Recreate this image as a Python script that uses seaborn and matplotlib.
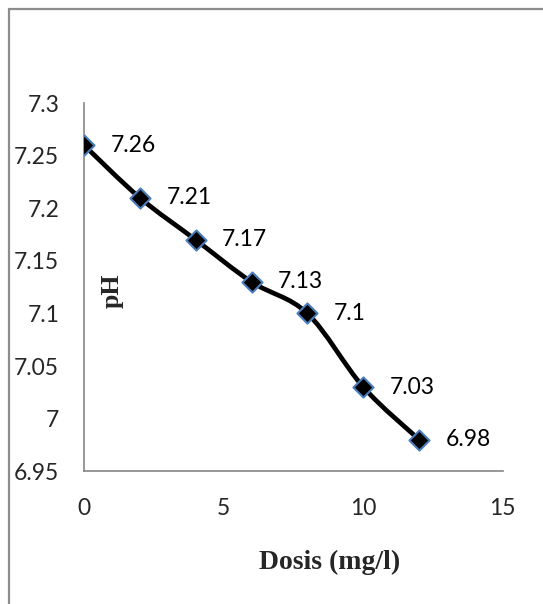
import matplotlib
matplotlib.use("Agg")
import matplotlib.pyplot as plt
import seaborn as sns
import pandas as pd
from matplotlib.path import Path
from matplotlib.patches import PathPatch
from matplotlib.lines import Line2D

# data
dosis = [0, 2, 4, 6, 8, 10, 12]
ph = [7.26, 7.21, 7.17, 7.13, 7.10, 7.03, 6.98]
labels = ["7.26", "7.21", "7.17", "7.13", "7.1", "7.03", "6.98"]
x_ticks = [0, 5, 10, 15]
y_ticks = [6.95, 7.0, 7.05, 7.1, 7.15, 7.2, 7.25, 7.3]
y_tick_labels = ["6.95", "7", "7.05", "7.1", "7.15", "7.2", "7.25", "7.3"]

df = pd.DataFrame({"dosis": dosis, "ph": ph})

sns.set_theme(style="white")
plt.rcParams["font.family"] = ["Lato", "DejaVu Sans"]

fig = plt.figure(figsize=(5.43, 6.04), dpi=100)
ax = fig.add_axes([0.155, 0.220, 0.771, 0.609])


def smooth_path(xs, ys):
    # Catmull-Rom style smoothing, drawn as cubic bezier segments
    pts = list(zip(xs, ys))
    verts = [pts[0]]
    codes = [Path.MOVETO]
    n = len(pts)
    for i in range(n - 1):
        p0 = pts[i - 1] if i > 0 else pts[i]
        p1 = pts[i]
        p2 = pts[i + 1]
        p3 = pts[i + 2] if i + 2 < n else pts[i + 1]
        c1 = (p1[0] + (p2[0] - p0[0]) / 6, p1[1] + (p2[1] - p0[1]) / 6)
        c2 = (p2[0] - (p3[0] - p1[0]) / 6, p2[1] - (p3[1] - p1[1]) / 6)
        verts += [c1, c2, p2]
        codes += [Path.CURVE4] * 3
    return Path(verts, codes)


ax.add_patch(PathPatch(smooth_path(df["dosis"], df["ph"]), facecolor="none",
                       edgecolor="black", lw=3.4, capstyle="round", zorder=2))
sns.scatterplot(data=df, x="dosis", y="ph", marker="D", s=105, color="black",
                edgecolor="#4a7ebb", linewidth=1.5, ax=ax, zorder=3)

for xv, yv, lab in zip(dosis, ph, labels):
    ax.annotate(lab, (xv, yv), xytext=(19, 0), textcoords="offset points",
                ha="left", va="center", fontsize=16.5, color="black")

ax.set_xlim(0, 15)
ax.set_ylim(6.95, 7.3)
ax.set_xticks(x_ticks)
ax.set_xticklabels([str(t) for t in x_ticks])
ax.set_yticks(y_ticks)
ax.set_yticklabels(y_tick_labels)
ax.tick_params(axis="x", length=0, pad=19, labelsize=16.5)
ax.tick_params(axis="y", length=0, pad=18, labelsize=16.5)
ax.set_xlabel("")
ax.set_ylabel("")

for side in ["top", "right"]:
    ax.spines[side].set_visible(False)
for side in ["left", "bottom"]:
    ax.spines[side].set_color("#868686")
    ax.spines[side].set_linewidth(1.2)

ax.text(0.067, 0.49, "pH", transform=ax.transAxes, rotation=90,
        ha="center", va="center", fontsize=18.5, fontweight="bold",
        family=["Liberation Serif", "DejaVu Serif"])
fig.text(330 / 543, 1 - 562 / 604, "Dosis (mg/l)", ha="center", va="center",
         fontsize=20, fontweight="bold", family=["Liberation Serif", "DejaVu Serif"])

# chart frame (top and left edges only visible)
fig.add_artist(Line2D([9 / 543, 1.0], [1 - 9 / 604, 1 - 9 / 604],
                      transform=fig.transFigure, color="#8c8c8c", lw=1.6))
fig.add_artist(Line2D([9 / 543, 9 / 543], [0, 1 - 9 / 604],
                      transform=fig.transFigure, color="#8c8c8c", lw=1.6))

fig.savefig("out.png", dpi=100)
